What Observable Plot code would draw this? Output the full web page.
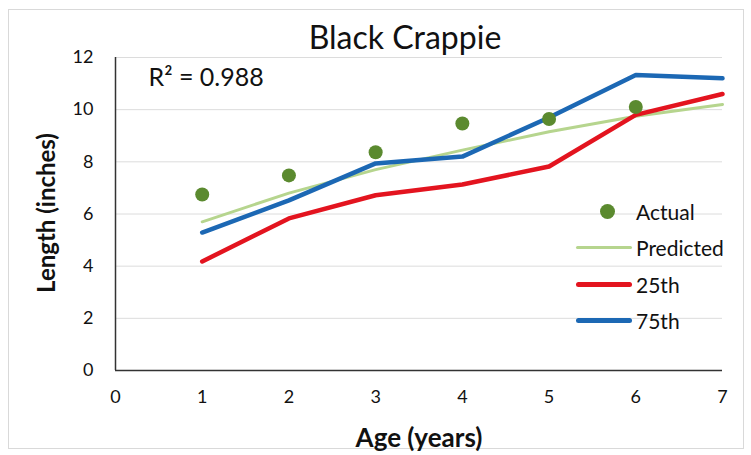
<!DOCTYPE html>
<html><head><meta charset="utf-8">
<script src="https://cdn.jsdelivr.net/npm/d3@7"></script>
<script src="https://cdn.jsdelivr.net/npm/@observablehq/plot@0.6"></script>
<style>
body{margin:0;background:#fff;font-family:Lato,"Open Sans",sans-serif;color:#111;}
#wrap{position:relative;width:751px;height:455px;overflow:hidden;}
#border{position:absolute;left:8px;top:9px;width:736px;height:440px;border:1px solid #d9d9d9;box-sizing:border-box;}
#title{position:absolute;left:0;width:810px;top:37px;transform:translateY(-50%);text-align:center;font-size:32px;line-height:1;}
#ylab{position:absolute;left:45px;top:213px;transform:translate(-50%,-50%) rotate(-90deg);font-size:24px;font-weight:bold;white-space:nowrap;}
#xlab{position:absolute;left:419px;top:437px;transform:translate(-50%,-50%);font-size:26px;font-weight:bold;white-space:nowrap;}
#legend{position:absolute;left:576px;top:193px;font-size:21px;}
.li{display:flex;align-items:center;height:36.5px;}
.sw{width:56px;display:flex;justify-content:center;align-items:center;margin-right:4px;}
.ln{width:56px;border-radius:3px;}
.dt{width:15px;height:15px;border-radius:50%;margin-left:6px}
#plot{position:absolute;left:0;top:0;}
</style></head><body>
<div id="wrap">
<div id="border"></div>
<div id="plot"></div>
<div id="title">Black Crappie</div>
<div id="ylab">Length (inches)</div>
<div id="xlab">Age (years)</div>
<div id="legend"></div>
</div>
<script>
const ages = [1, 2, 3, 4, 5, 6, 7];
const actualAges = [1, 2, 3, 4, 5, 6];
const actual = [6.75, 7.48, 8.37, 9.47, 9.64, 10.1];
const predicted = [5.7, 6.8, 7.7, 8.45, 9.15, 9.75, 10.2];
const p25 = [4.18, 5.83, 6.72, 7.13, 7.82, 9.8, 10.6];
const p75 = [5.29, 6.52, 7.94, 8.2, 9.7, 11.33, 11.2];
const xTicks = [0, 1, 2, 3, 4, 5, 6, 7];
const yTicks = [0, 2, 4, 6, 8, 10, 12];
const r2Label = "R² = 0.988";
const seriesNames = ["Actual", "Predicted", "25th", "75th"];
const colors = {Actual: "#5b8a2f", Predicted: "#b6d58e", "25th": "#e3141f", "75th": "#1c68b4"};

const actualData = actualAges.map((a, i) => ({age: a, len: actual[i]}));
const predData = ages.map((a, i) => ({age: a, len: predicted[i]}));
const p25Data = ages.map((a, i) => ({age: a, len: p25[i]}));
const p75Data = ages.map((a, i) => ({age: a, len: p75[i]}));

const chart = Plot.plot({
  width: 751, height: 455,
  marginLeft: 115, marginRight: 29, marginTop: 57, marginBottom: 85,
  style: {fontFamily: "Lato, 'Open Sans', sans-serif", fontSize: "18px", color: "#111", background: "transparent"},
  x: {domain: [0, 7], ticks: xTicks, label: null},
  y: {domain: [0, 12], ticks: yTicks, label: null},
  marks: [
    Plot.gridY(yTicks, {stroke: "#dcdcdc", strokeOpacity: 1, strokeWidth: 1}),
    Plot.axisY(yTicks, {tickSize: 0, tickPadding: 22, fontSize: 18}),
    Plot.axisX(xTicks, {tickSize: 0, tickPadding: 20, fontSize: 18}),
    Plot.ruleX([0], {stroke: "#333", strokeWidth: 1.5}),
    Plot.ruleY([0], {stroke: "#333", strokeWidth: 1.5}),
    Plot.line(predData, {x: "age", y: "len", stroke: colors.Predicted, strokeWidth: 3}),
    Plot.line(p25Data, {x: "age", y: "len", stroke: colors["25th"], strokeWidth: 4.5}),
    Plot.line(p75Data, {x: "age", y: "len", stroke: colors["75th"], strokeWidth: 4.5}),
    Plot.dot(actualData, {x: "age", y: "len", r: 7, fill: colors.Actual, stroke: "none"}),
    Plot.text([r2Label], {frameAnchor: "top-left", textAnchor: "start", lineAnchor: "middle", dx: 33, dy: 20, fontSize: 25, fill: "#111"})
  ]
});
document.getElementById("plot").appendChild(chart);

const lg = document.getElementById("legend");
seriesNames.forEach(n => {
  const row = document.createElement("div");
  row.className = "li";
  const sw = document.createElement("div");
  sw.className = "sw";
  const m = document.createElement("div");
  if (n === "Actual") { m.className = "dt"; m.style.background = colors[n]; }
  else { m.className = "ln"; m.style.background = colors[n]; m.style.height = n === "Predicted" ? "3px" : "5px"; }
  sw.appendChild(m);
  const t = document.createElement("span");
  t.textContent = n;
  row.appendChild(sw); row.appendChild(t);
  lg.appendChild(row);
});
</script>
</body></html>
